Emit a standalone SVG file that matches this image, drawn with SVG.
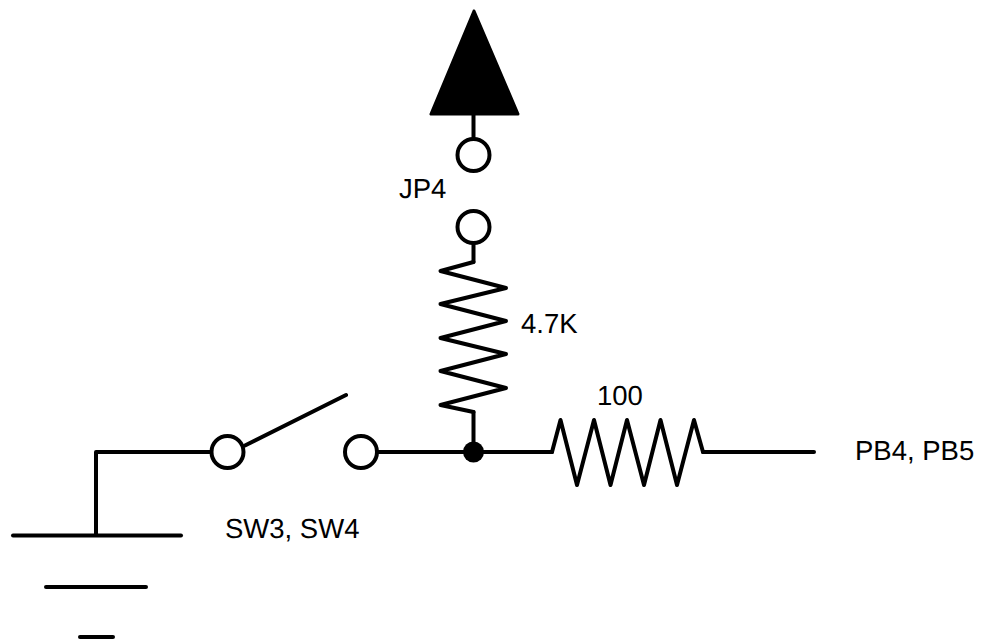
<svg xmlns="http://www.w3.org/2000/svg" width="987" height="639" viewBox="0 0 987 639">
<style>
.w{fill:none;stroke:#000;stroke-width:4;stroke-linecap:round;stroke-linejoin:round}
.p{fill:#fff;stroke:#000;stroke-width:4}
text{font-family:"Liberation Sans",Arial,sans-serif;font-size:27.5px;fill:#000;text-rendering:geometricPrecision}
</style>
<rect width="987" height="639" fill="#fff"/>
<g id="connectors">
<path class="w" d="M473.500 114V139"/>
<path class="w" d="M473.500 243V262"/>
<path class="w" d="M473.500 412V452"/>
<path class="w" d="M378 452H552"/>
<path class="w" d="M703 452H814"/>
<path class="w" d="M212 452H96V535"/>
</g>
<g id="vcc"><path d="M474 11L431 114H518Z" fill="#000" stroke="#000" stroke-width="3" stroke-linejoin="round"/></g>
<g id="jp4">
<circle class="p" cx="473.500" cy="155" r="16"/>
<circle class="p" cx="473.500" cy="227" r="16"/>
<text x="399" y="198">JP4</text>
</g>
<g id="r-pullup">
<path class="w" d="M473.500 262L440.500 271L506 288L440.500 304L506 321L440.500 338L506 354L440.500 371L506 388L440.500 405L473.500 412"/>
<text x="521" y="333">4.7K</text>
</g>
<g id="junction"><circle cx="473.500" cy="452" r="10.500" fill="#000"/></g>
<g id="r-series">
<path class="w" d="M552 452L560.500 420L577 485L594 420L610.500 485L627 420L644 485L660.500 420L677 485L694 420L703 452"/>
<text x="597" y="405">100</text>
</g>
<g id="pb-label"><text x="855" y="460">PB4, PB5</text></g>
<g id="switch">
<circle class="p" cx="227.500" cy="452" r="16"/>
<circle class="p" cx="361" cy="452" r="16"/>
<path class="w" d="M245 445.500L346 395"/>
<text x="225" y="538">SW3, SW4</text>
</g>
<g id="ground">
<path class="w" d="M13 535.500H181"/>
<path class="w" d="M46 587H146"/>
<path class="w" d="M80 637H113"/>
</g>
</svg>
